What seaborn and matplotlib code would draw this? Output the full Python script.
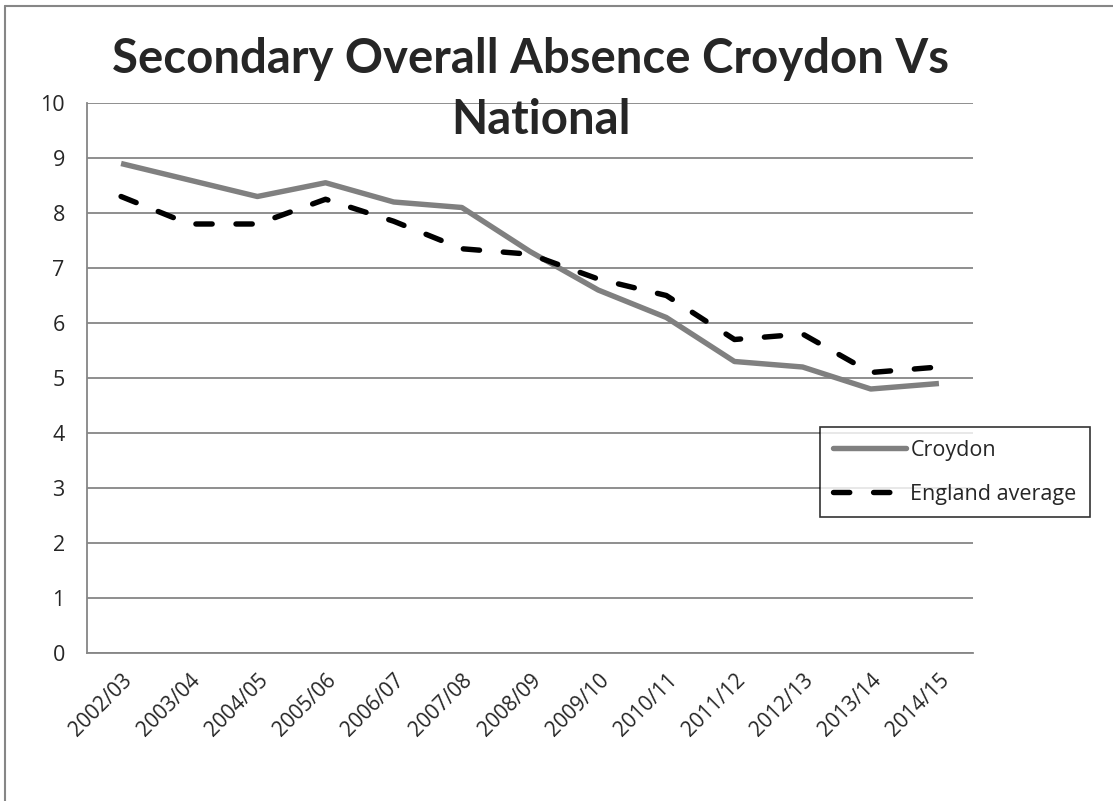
import matplotlib
matplotlib.use("Agg")
import matplotlib.pyplot as plt
import seaborn as sns
import pandas as pd
from matplotlib.lines import Line2D

years = ["2002/03", "2003/04", "2004/05", "2005/06", "2006/07", "2007/08", "2008/09",
         "2009/10", "2010/11", "2011/12", "2012/13", "2013/14", "2014/15"]
croydon = [8.9, 8.6, 8.3, 8.55, 8.2, 8.1, 7.3, 6.6, 6.1, 5.3, 5.2, 4.8, 4.9]
england = [8.3, 7.8, 7.8, 8.25, 7.85, 7.35, 7.25, 6.8, 6.5, 5.7, 5.8, 5.1, 5.2]

sns.set_theme(style="white")
plt.rcParams["font.family"] = ["Open Sans", "DejaVu Sans"]

df = pd.DataFrame({
    "pos": list(range(len(years))) * 2,
    "value": croydon + england,
    "series": ["Croydon"] * len(years) + ["England average"] * len(years),
})

W, H = 1113, 801
fig = plt.figure(figsize=(W / 100, H / 100), dpi=100)
ax = fig.add_axes([87 / W, 1 - 653 / H, (973 - 87) / W, (653 - 103) / H])

LW = 3.9
DASH = [3.0, 4.4]
sns.lineplot(data=df[df.series == "Croydon"], x="pos", y="value", ax=ax,
             color="#808080", linewidth=LW, legend=False)
sns.lineplot(data=df[df.series == "England average"], x="pos", y="value", ax=ax,
             color="black", linewidth=LW, legend=False)
ax.lines[1].set_dashes(DASH)
ax.lines[1].set_dash_capstyle("round")
ax.lines[0].set_solid_capstyle("butt")

ax.set_xlim(-0.5, len(years) - 0.5)
ax.set_ylim(0, 10)
ax.set_yticks(range(0, 11))
ax.set_yticklabels([str(i) for i in range(0, 11)], fontsize=15.5)
ax.set_xticks(range(len(years)))
ax.set_xticklabels(years, rotation=45, ha="right", rotation_mode="anchor", fontsize=15)
ax.set_xticks([i - 0.5 for i in range(len(years) + 1)], minor=True)
ax.tick_params(axis="x", which="major", length=0, pad=12)
ax.tick_params(axis="x", which="minor", length=6, width=1.3, color="#868686", direction="out")
ax.tick_params(axis="y", length=6, width=1.3, color="#868686", direction="out", pad=10)
ax.set_xlabel("")
ax.set_ylabel("")

ax.grid(axis="y", color="#868686", linewidth=1.3)
ax.set_axisbelow(True)
for side in ["top", "right"]:
    ax.spines[side].set_visible(False)
for side in ["left", "bottom"]:
    ax.spines[side].set_color("#868686")
    ax.spines[side].set_linewidth(1.3)

# legend box straddling the right edge of the plot area
handles = [Line2D([], [], color="#808080", linewidth=LW),
           Line2D([], [], color="black", linewidth=LW, dashes=DASH,
                  dash_capstyle="round")]
leg = ax.legend(handles, ["Croydon", "England average"], loc="upper left",
                bbox_to_anchor=((820 - 87) / (973 - 87), (653 - 427) / (653 - 103)),
                frameon=True, fancybox=False, fontsize=15.5, handlelength=3.4,
                handletextpad=0.2, labelspacing=1.05, borderpad=0.6, borderaxespad=0)
leg.get_frame().set_edgecolor("black")
leg.get_frame().set_linewidth(1.2)

title_font = ["Lato", "DejaVu Sans"]
fig.text(531 / W, 1 - 73 / H, "Secondary Overall Absence Croydon Vs",
         ha="center", va="baseline", fontsize=34, fontweight="bold", family=title_font)
fig.text(541 / W, 1 - 134 / H, "National",
         ha="center", va="baseline", fontsize=34, fontweight="bold", family=title_font)

# chart frame: only the top and left edges fall inside the canvas
fig.add_artist(Line2D([5 / W, 1.0], [1 - 6 / H, 1 - 6 / H], transform=fig.transFigure,
                      color="#868686", linewidth=1.5))
fig.add_artist(Line2D([5 / W, 5 / W], [0.0, 1 - 6 / H], transform=fig.transFigure,
                      color="#868686", linewidth=1.5))

fig.savefig("out.png", dpi=100, facecolor="white")
